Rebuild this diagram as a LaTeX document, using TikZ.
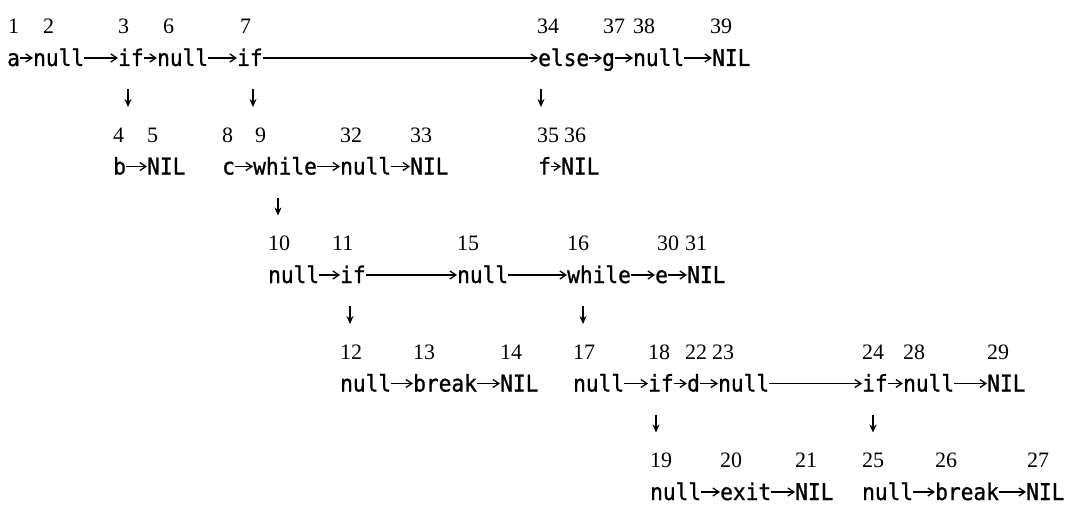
\documentclass[tikz,border=0pt]{standalone}
\usepackage{fontspec}
\setmainfont{Liberation Serif}
\newfontfamily\wordfont[FakeStretch=0.92,FakeBold=1]{DejaVu Sans Mono}
\usetikzlibrary{arrows.meta,calc}
\tikzset{
  word/.style={font=\wordfont\fontsize{23}{23}\selectfont, inner sep=0pt, anchor=west, text height=16pt, text depth=0pt},
  num/.style={font=\rmfamily\fontsize{22}{22}\selectfont, inner sep=0pt, anchor=west, text height=15pt, text depth=0pt},
  conn/.style={-{Straight Barb[length=6pt,width=8pt]}, line width=1.3pt},
  down/.style={-{Stealth[length=8pt,width=7pt]}, line width=1.5pt}
}
\newcommand\dnarr[2]{\draw[down] ([xshift=#2,yshift=-31pt]#1.west) -- ([xshift=#2,yshift=-49pt]#1.west);}
\begin{document}
\begin{tikzpicture}[x=1pt,y=-1pt]
\useasboundingbox (0,0) rectangle (1067,508);
\def\Ta{58}\def\Tb{166.5}\def\Tc{275}\def\Td{383.5}\def\Te{492}
\def\Na{26}\def\Nb{134.5}\def\Nc{243}\def\Nd{351.5}\def\Ne{460}
% ---------- row 1
\node[word] (w1) at (7,\Ta) {a};      \node[num] (n1) at (8,\Na) {1};
\node[word] (w2) at (33,\Ta) {null};  \node[num] (n2) at (43,\Na) {2};
\node[word] (w3) at (118,\Ta) {if};   \node[num] (n3) at (118,\Na) {3};
\node[word] (w6) at (157,\Ta) {null}; \node[num] (n6) at (163,\Na) {6};
\node[word] (w7) at (237,\Ta) {if};   \node[num] (n7) at (240,\Na) {7};
\node[word] (w34) at (538,\Ta) {else};\node[num] (n34) at (537,\Na) {34};
\node[word] (w37) at (602,\Ta) {g};   \node[num] (n37) at (603,\Na) {37};
\node[word] (w38) at (633,\Ta) {null};\node[num] (n38) at (633,\Na) {38};
\node[word] (w39) at (712,\Ta) {NIL}; \node[num] (n39) at (710,\Na) {39};
\draw[conn] (w1) -- (w2); \draw[conn] (w2) -- (w3); \draw[conn] (w3) -- (w6);
\draw[conn] (w6) -- (w7); \draw[conn] (w7) -- (w34); \draw[conn] (w34) -- (w37);
\draw[conn] (w37) -- (w38); \draw[conn] (w38) -- (w39);
\dnarr{w3}{10pt} \dnarr{w7}{16pt} \dnarr{w34}{3pt}
% ---------- row 2
\node[word] (w4) at (113,\Tb) {b};    \node[num] (n4) at (113,\Nb) {4};
\node[word] (w5) at (147,\Tb) {NIL};  \node[num] (n5) at (147,\Nb) {5};
\node[word] (w8) at (222,\Tb) {c};    \node[num] (n8) at (222,\Nb) {8};
\node[word] (w9) at (253,\Tb) {while};\node[num] (n9) at (255,\Nb) {9};
\node[word] (w32) at (340,\Tb) {null};\node[num] (n32) at (340,\Nb) {32};
\node[word] (w33) at (410,\Tb) {NIL}; \node[num] (n33) at (410,\Nb) {33};
\node[word] (w35) at (538,\Tb) {f};   \node[num] (n35) at (537,\Nb) {35};
\node[word] (w36) at (561,\Tb) {NIL}; \node[num] (n36) at (564,\Nb) {36};
\draw[conn] (w4) -- (w5); \draw[conn] (w8) -- (w9); \draw[conn] (w9) -- (w32);
\draw[conn] (w32) -- (w33); \draw[conn] (w35) -- (w36);
\dnarr{w9}{25pt}
% ---------- row 3
\node[word] (w10) at (268,\Tc) {null};\node[num] (n10) at (268,\Nc) {10};
\node[word] (w11) at (340,\Tc) {if};  \node[num] (n11) at (332,\Nc) {11};
\node[word] (w15) at (457,\Tc) {null};\node[num] (n15) at (457,\Nc) {15};
\node[word] (w16) at (567,\Tc) {while};\node[num] (n16) at (567,\Nc) {16};
\node[word] (w30) at (655,\Tc) {e};   \node[num] (n30) at (657,\Nc) {30};
\node[word] (w31) at (687,\Tc) {NIL}; \node[num] (n31) at (685,\Nc) {31};
\draw[conn] (w10) -- (w11); \draw[conn] (w11) -- (w15); \draw[conn] (w15) -- (w16);
\draw[conn] (w16) -- (w30); \draw[conn] (w30) -- (w31);
\dnarr{w11}{10pt} \dnarr{w16}{16pt}
% ---------- row 4
\node[word] (w12) at (340,\Td) {null};\node[num] (n12) at (340,\Nd) {12};
\node[word] (w13) at (413,\Td) {break};\node[num] (n13) at (413,\Nd) {13};
\node[word] (w14) at (500,\Td) {NIL}; \node[num] (n14) at (500,\Nd) {14};
\node[word] (w17) at (573,\Td) {null};\node[num] (n17) at (573,\Nd) {17};
\node[word] (w18) at (648,\Td) {if};  \node[num] (n18) at (648,\Nd) {18};
\node[word] (w22) at (687,\Td) {d};   \node[num] (n22) at (685,\Nd) {22};
\node[word] (w23) at (718,\Td) {null};\node[num] (n23) at (712,\Nd) {23};
\node[word] (w24) at (862,\Td) {if};  \node[num] (n24) at (862,\Nd) {24};
\node[word] (w28) at (903,\Td) {null};\node[num] (n28) at (903,\Nd) {28};
\node[word] (w29) at (987,\Td) {NIL}; \node[num] (n29) at (987,\Nd) {29};
\draw[conn] (w12) -- (w13); \draw[conn] (w13) -- (w14);
\draw[conn] (w17) -- (w18); \draw[conn] (w18) -- (w22); \draw[conn] (w22) -- (w23);
\draw[conn] (w23) -- (w24); \draw[conn] (w24) -- (w28); \draw[conn] (w28) -- (w29);
\dnarr{w18}{8pt} \dnarr{w24}{11pt}
% ---------- row 5
\node[word] (w19) at (650,\Te) {null};\node[num] (n19) at (650,\Ne) {19};
\node[word] (w20) at (720,\Te) {exit};\node[num] (n20) at (720,\Ne) {20};
\node[word] (w21) at (795,\Te) {NIL}; \node[num] (n21) at (795,\Ne) {21};
\node[word] (w25) at (862,\Te) {null};\node[num] (n25) at (862,\Ne) {25};
\node[word] (w26) at (935,\Te) {break};\node[num] (n26) at (935,\Ne) {26};
\node[word] (w27) at (1026,\Te) {NIL};\node[num] (n27) at (1027,\Ne) {27};
\draw[conn] (w19) -- (w20); \draw[conn] (w20) -- (w21);
\draw[conn] (w25) -- (w26); \draw[conn] (w26) -- (w27);
\end{tikzpicture}
\end{document}
